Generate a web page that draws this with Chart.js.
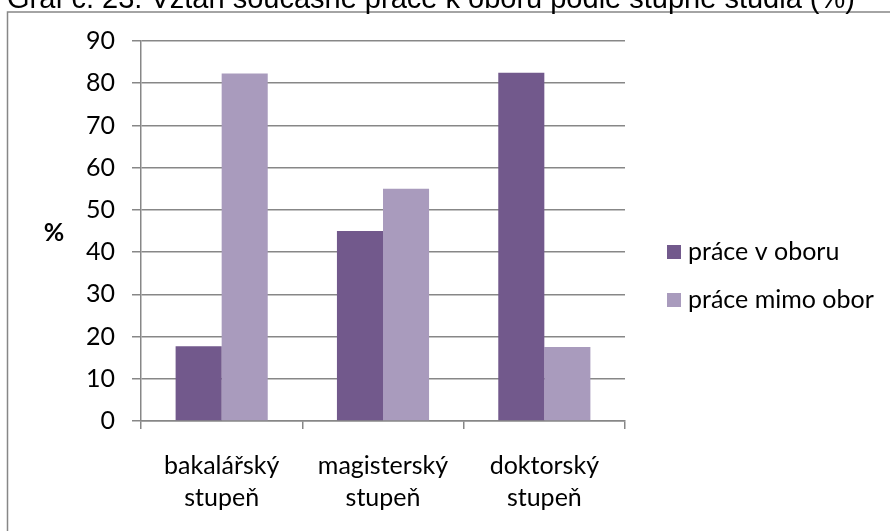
<!DOCTYPE html>
<html lang="cs">
<head>
<meta charset="utf-8">
<title>Graf č. 23</title>
<script src="https://cdn.jsdelivr.net/npm/chart.js@4.4.1/dist/chart.umd.min.js"></script>
<style>
  html, body { margin: 0; padding: 0; background: #fff; }
  #chart { display: block; }
</style>
</head>
<body>
<canvas id="chart" width="890" height="531"></canvas>
<script>
const TITLE = 'Graf č. 23: Vztah současné práce k oboru podle stupně studia (%)';
const categories = [['bakalářský', 'stupeň'], ['magisterský', 'stupeň'], ['doktorský', 'stupeň']];
const seriesNames = ['práce v oboru', 'práce mimo obor'];
const inField = [17.7, 45.0, 82.5];
const outOfField = [82.3, 55.0, 17.5];
const yTicks = [0, 10, 20, 30, 40, 50, 60, 70, 80, 90];
const colors = ['#72598c', '#a99bbd'];

const LINE = '#878787';
const LABEL_FONT = 'Lato, "Open Sans", sans-serif';

// frame, cropped title, "%" label and the legend on the right
const decorations = {
    id: 'decorations',
    beforeDraw(chart) {
        const ctx = chart.ctx;
        ctx.save();
        ctx.strokeStyle = LINE;
        ctx.lineWidth = 1.5;
        ctx.strokeRect(7.5, 12, 1000, 1000);

        ctx.fillStyle = '#000';
        ctx.font = '29px "Liberation Sans", Arial, sans-serif';
        ctx.textBaseline = 'alphabetic';
        ctx.textAlign = 'left';
        ctx.fillText(TITLE, 7, 7.5);
        ctx.restore();
    },
    afterDraw(chart) {
        const ctx = chart.ctx;
        ctx.save();
        ctx.fillStyle = '#000';
        ctx.font = 'bold 25px ' + LABEL_FONT;
        ctx.textAlign = 'center';
        ctx.textBaseline = 'middle';
        ctx.fillText('%', 54, 233);

        ctx.font = '25px ' + LABEL_FONT;
        ctx.textAlign = 'left';
        chart.data.datasets.forEach((ds, i) => {
            const cy = 252 + i * 48;
            ctx.fillStyle = ds.backgroundColor;
            ctx.fillRect(667, cy - 7, 14, 14);
            ctx.fillStyle = '#000';
            ctx.fillText(ds.label, 688, cy);
        });
        ctx.restore();
    }
};

new Chart(document.getElementById('chart'), {
    type: 'bar',
    data: {
        labels: categories,
        datasets: [
            { label: seriesNames[0], data: inField, backgroundColor: colors[0] },
            { label: seriesNames[1], data: outOfField, backgroundColor: colors[1] }
        ]
    },
    options: {
        responsive: false,
        animation: false,
        devicePixelRatio: 1,
        layout: { padding: { left: 0, right: 265, top: 41, bottom: 0 } },
        datasets: {
            bar: { categoryPercentage: 0.571, barPercentage: 1.0, borderWidth: 0 }
        },
        plugins: {
            legend: { display: false },
            title: { display: false },
            tooltip: { enabled: false }
        },
        scales: {
            x: {
                afterFit: s => { s.height = 110; },
                grid: {
                    display: true,
                    drawOnChartArea: false,
                    offset: true,
                    tickLength: 8,
                    color: LINE,
                    lineWidth: 1.5
                },
                border: { color: LINE, width: 1.5 },
                ticks: {
                    color: '#000',
                    padding: 21,
                    maxRotation: 0,
                    font: { family: LABEL_FONT, size: 25, lineHeight: 1.28 }
                }
            },
            y: {
                min: 0,
                max: 90,
                afterFit: s => { s.width = 141; },
                afterBuildTicks: s => { s.ticks = yTicks.map(v => ({ value: v })); },
                grid: {
                    color: LINE,
                    lineWidth: 1.5,
                    tickLength: 9
                },
                border: { color: LINE, width: 1.5 },
                ticks: {
                    color: '#000',
                    padding: 17,
                    font: { family: LABEL_FONT, size: 25 }
                }
            }
        }
    },
    plugins: [decorations]
});
</script>
</body>
</html>
